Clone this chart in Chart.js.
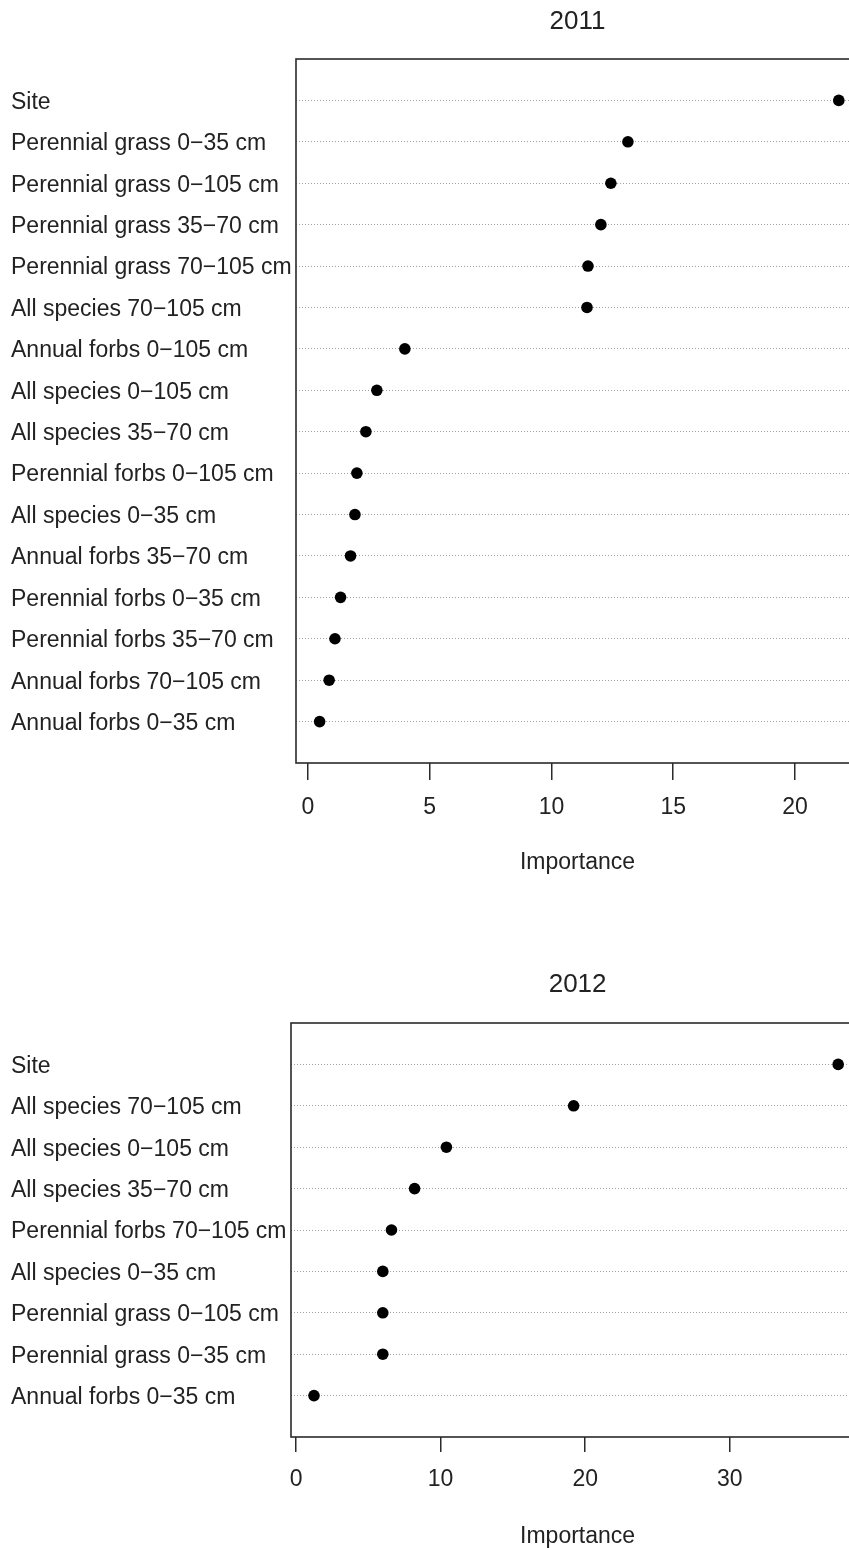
<!DOCTYPE html>
<html><head><meta charset="utf-8">
<script src="https://cdn.jsdelivr.net/npm/chart.js@4/dist/chart.umd.min.js"></script>
<style>
html,body{margin:0;padding:0;background:#fff;overflow:hidden;width:849px;height:1548px;position:relative;}
#c1{position:absolute;left:0;top:0;}
#c2{position:absolute;left:0;top:963px;}
</style></head><body>
<canvas id="c1" width="870" height="900"></canvas>
<canvas id="c2" width="870" height="600"></canvas>
<script>
const labels2011 = [
  "Site",
  "Perennial grass 0\u221235 cm",
  "Perennial grass 0\u2212105 cm",
  "Perennial grass 35\u221270 cm",
  "Perennial grass 70\u2212105 cm",
  "All species 70\u2212105 cm",
  "Annual forbs 0\u2212105 cm",
  "All species 0\u2212105 cm",
  "All species 35\u221270 cm",
  "Perennial forbs 0\u2212105 cm",
  "All species 0\u221235 cm",
  "Annual forbs 35\u221270 cm",
  "Perennial forbs 0\u221235 cm",
  "Perennial forbs 35\u221270 cm",
  "Annual forbs 70\u2212105 cm",
  "Annual forbs 0\u221235 cm"
];
const values2011 = [21.8, 13.14, 12.44, 12.03, 11.5, 11.46, 3.98, 2.83, 2.38, 2.01, 1.93, 1.75, 1.34, 1.11, 0.87, 0.48];
const ticks2011 = [0, 5, 10, 15, 20];

const labels2012 = [
  "Site",
  "All species 70\u2212105 cm",
  "All species 0\u2212105 cm",
  "All species 35\u221270 cm",
  "Perennial forbs 70\u2212105 cm",
  "All species 0\u221235 cm",
  "Perennial grass 0\u2212105 cm",
  "Perennial grass 0\u221235 cm",
  "Annual forbs 0\u221235 cm"
];
const values2012 = [37.5, 19.2, 10.4, 8.2, 6.6, 6.0, 6.0, 6.0, 1.24];
const ticks2012 = [0, 10, 20, 30];

const FAMILY = "'Liberation Sans', Arial, sans-serif";
const TEXT = '#222';

const boxPlugin = {
  id: 'box',
  beforeDatasetsDraw(chart) {
    const {ctx, chartArea: a} = chart;
    ctx.save();
    ctx.strokeStyle = '#2a2a2a';
    ctx.lineWidth = 1.6;
    ctx.strokeRect(a.left, a.top, a.right - a.left, a.bottom - a.top);
    ctx.restore();
  }
};

function makeChart(id, title, labels, values, ticks, opt) {
  const data = values.map((v, i) => ({x: v, y: i + 1}));
  return new Chart(document.getElementById(id), {
    type: 'scatter',
    data: {datasets: [{data, pointRadius: 5.8, pointHoverRadius: 5.8, backgroundColor: '#000', borderWidth: 0}]},
    options: {
      responsive: false,
      animation: false,
      layout: {padding: {left: 11, right: opt.padRight, top: 0, bottom: 0}},
      plugins: {
        legend: {display: false},
        tooltip: {enabled: false},
        title: {display: false}
      },
      scales: {
        top: {
          type: 'linear', position: 'top', min: opt.xmin, max: opt.xmax,
          afterFit: s => { s.height = opt.topHeight; },
          ticks: {display: false},
          grid: {display: false, drawTicks: false},
          border: {display: false},
          title: {display: true, text: title, color: TEXT,
            font: {family: FAMILY, size: 26, lineHeight: 1.2},
            padding: {top: 6, bottom: 0}}
        },
        x: {
          type: 'linear', position: 'bottom', min: opt.xmin, max: opt.xmax,
          afterBuildTicks: s => { s.ticks = ticks.map(v => ({value: v})); },
          afterFit: s => { s.height = opt.xHeight; },
          ticks: {font: {family: FAMILY, size: 23}, color: TEXT, padding: 14, maxRotation: 0, autoSkip: false},
          grid: {drawOnChartArea: false, drawTicks: true, tickLength: opt.tickLen, color: '#2a2a2a', lineWidth: 1.5},
          border: {display: false},
          title: {display: true, text: 'Importance', color: TEXT,
            font: {family: FAMILY, size: 23, lineHeight: 1.2},
            padding: {top: 0, bottom: opt.xTitleBottom}}
        },
        y: {
          type: 'linear', reverse: true, min: 0, max: labels.length + 1,
          afterBuildTicks: s => { s.ticks = labels.map((_, i) => ({value: i + 1})); },
          afterFit: s => { s.width = opt.yWidth; },
          ticks: {callback: v => labels[v - 1], font: {family: FAMILY, size: 23}, color: TEXT, crossAlign: 'far', autoSkip: false, labelOffset: 2},
          grid: {drawTicks: false, color: '#a0a0a0', lineWidth: 1},
          border: {display: false, dash: [1, 2]}
        }
      }
    },
    plugins: [boxPlugin]
  });
}

makeChart('c1', '2011', labels2011, values2011, ticks2011,
  {padRight: 11, topHeight: 59, xmin: -0.49, xmax: 22.63, xHeight: 137, tickLen: 17, xTitleBottom: 24, yWidth: 285});
makeChart('c2', '2012', labels2012, values2012, ticks2012,
  {padRight: 5, topHeight: 60, xmin: -0.35, xmax: 39.3, xHeight: 126, tickLen: 15, xTitleBottom: 13, yWidth: 280});
</script>
</body></html>
